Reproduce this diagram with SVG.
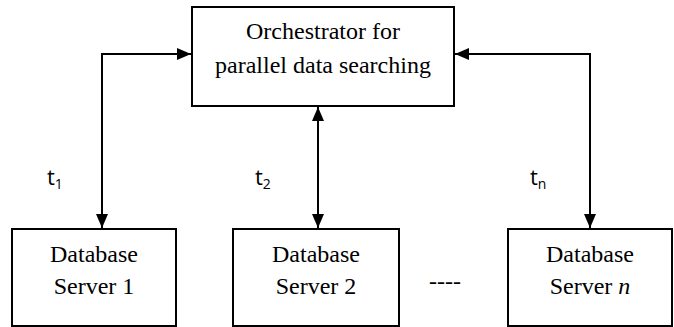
<svg xmlns="http://www.w3.org/2000/svg" width="674" height="327" viewBox="0 0 674 327">
<style>
.box{fill:#fff;stroke:#000;stroke-width:2}
.lbl{font-family:'Liberation Serif','DejaVu Serif','Times New Roman',serif;font-size:24px;fill:#000;text-anchor:middle}
.t{font-family:'Open Sans','Liberation Sans',sans-serif;font-size:22px;fill:#000}
.sub{font-size:14px}
.conn{fill:none;stroke:#000;stroke-width:2}
</style>
<defs>
<marker id="ah" viewBox="0 0 14 12" refX="14" refY="6" markerWidth="14" markerHeight="12" markerUnits="userSpaceOnUse" orient="auto-start-reverse">
<path d="M0,0 L14,6 L0,12 Z" fill="#000"/>
</marker>
</defs>
<g id="connectors">
<path class="conn" d="M191,54 H102 V228" marker-start="url(#ah)" marker-end="url(#ah)"/>
<path class="conn" d="M318,107 V228" marker-start="url(#ah)" marker-end="url(#ah)"/>
<path class="conn" d="M455,54 H590 V228" marker-start="url(#ah)" marker-end="url(#ah)"/>
</g>
<g id="orchestrator">
<rect class="box" x="192" y="7" width="262" height="99"/>
<text class="lbl" x="323" y="39">Orchestrator for</text>
<text class="lbl" x="323" y="73">parallel data searching</text>
</g>
<g id="db1">
<rect class="box" x="12" y="229" width="164" height="97"/>
<text class="lbl" x="94" y="262">Database</text>
<text class="lbl" x="94" y="294">Server 1</text>
</g>
<g id="db2">
<rect class="box" x="233" y="229" width="166" height="97"/>
<text class="lbl" x="316" y="262">Database</text>
<text class="lbl" x="316" y="294">Server 2</text>
</g>
<g id="dbn">
<rect class="box" x="508" y="229" width="164" height="97"/>
<text class="lbl" x="590" y="262">Database</text>
<text class="lbl" x="590" y="294">Server <tspan font-style="italic">n</tspan></text>
</g>
<g id="labels">
<text class="t" x="47" y="185">t<tspan class="sub" dy="4">1</tspan></text>
<text class="t" x="255" y="185">t<tspan class="sub" dy="4">2</tspan></text>
<text class="t" x="530" y="185">t<tspan class="sub" dy="4">n</tspan></text>
<text class="lbl" x="445" y="289">----</text>
</g>
</svg>
